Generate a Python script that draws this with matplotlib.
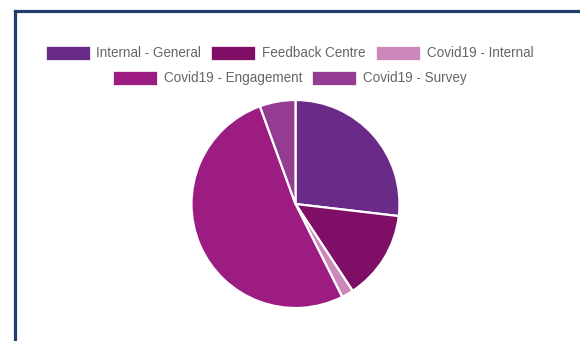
import matplotlib
matplotlib.use("Agg")
import matplotlib.pyplot as plt
from matplotlib.patches import Rectangle

# --- data ---
labels = ["Internal - General", "Feedback Centre", "Covid19 - Internal",
          "Covid19 - Engagement", "Covid19 - Survey"]
values = [29, 15, 2, 56, 6]
colors = ["#6a2a88", "#7e0e66", "#cc88bb", "#9c1c82", "#943c92"]
legend_rows = [[0, 1, 2], [3, 4]]

W, H = 580, 341
plt.rcParams["font.family"] = ["Liberation Sans", "DejaVu Sans"]

fig = plt.figure(figsize=(W / 100, H / 100), dpi=100, facecolor="white")

# frame: dark navy border on left and top
fig.add_artist(plt.Line2D([14.5 / W, 14.5 / W], [0, 1 - 10.5 / H],
                          transform=fig.transFigure, color="#203f6e", lw=2.3,
                          solid_capstyle="projecting"))
fig.add_artist(plt.Line2D([14.5 / W, 1], [1 - 10.5 / H, 1 - 10.5 / H],
                          transform=fig.transFigure, color="#203f6e", lw=2.3,
                          solid_capstyle="projecting"))

# pie
cx, cy, r = 295.5, 204, 104
ax = fig.add_axes([(cx - r) / W, (H - cy - r) / H, 2 * r / W, 2 * r / H])
ax.pie(values, colors=colors, startangle=90, counterclock=False,
       wedgeprops=dict(edgecolor="white", linewidth=1.6))
ax.set_xlim(-1, 1)
ax.set_ylim(-1, 1)
ax.set_aspect("auto")
ax.axis("off")

# legend, laid out by hand (two centred rows)
fig.canvas.draw()
renderer = fig.canvas.get_renderer()
box_w, box_h, gap, sep = 44, 14, 7, 10
row_y = [53, 78]
center_x = 289.5
for row, y in zip(legend_rows, row_y):
    widths = []
    texts = []
    for i in row:
        t = fig.text(0, 0, labels[i], fontsize=9.75, color="#666666",
                     va="center", ha="left")
        widths.append(t.get_window_extent(renderer).width)
        texts.append(t)
    total = sum(box_w + gap + w for w in widths) + sep * (len(row) - 1)
    x = center_x - total / 2
    for i, t, w in zip(row, texts, widths):
        fig.add_artist(Rectangle((x / W, (H - y - box_h / 2) / H),
                                 box_w / W, box_h / H,
                                 transform=fig.transFigure,
                                 facecolor=colors[i], edgecolor="white", lw=0.5))
        t.set_position(((x + box_w + gap) / W, (H - y) / H))
        x += box_w + gap + w + sep

fig.savefig("out.png", dpi=100, facecolor="white")
